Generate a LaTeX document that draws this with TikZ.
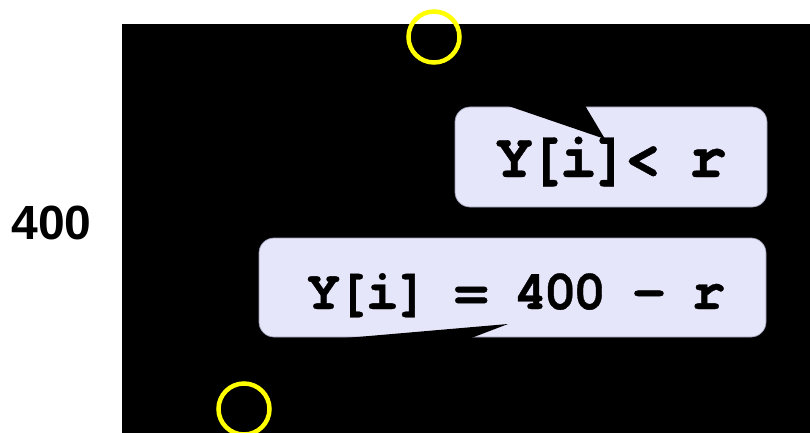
\documentclass[tikz,border=0pt]{standalone}
\usepackage{fontspec}
\newfontfamily\monobA{texgyrecursor-bold.otf}[FakeBold=0.6,LetterSpace=-9,WordSpace={0.85,0,0}]
\newfontfamily\monobB{texgyrecursor-bold.otf}[FakeBold=0.6,LetterSpace=-7.5,WordSpace={0.88,0,0}]
\newfontfamily\sansb{Liberation Sans}
\definecolor{calloutfill}{HTML}{E6E6FA}
\definecolor{calloutedge}{HTML}{9A9AB0}
\definecolor{ring}{HTML}{FFFF00}
\begin{document}
\begin{tikzpicture}[x=1pt,y=-1pt,
  callout/.style={rectangle, rounded corners=15pt, fill=calloutfill, draw=calloutedge, line width=0.7pt, inner sep=0pt},
  codetext/.style={anchor=base, inner sep=0pt},
  ringmark/.style={circle, draw=ring, line width=4.5pt, minimum size=51pt, inner sep=0pt}]
\useasboundingbox (0,0) rectangle (810,433);
\fill[white] (0,0) rectangle (810,433);
\fill[black] (122,24) rectangle (810,433);
\node[anchor=base, inner sep=0pt, font=\sansb\bfseries\fontsize{48}{50}\selectfont] (lbl) at (51.5,239) {400};
% callout 1
\node[callout, minimum width=312pt, minimum height=100pt] (b1) at (611,157) {};
\fill[black] (507,105.5) -- (605,139) -- (585,105.5) -- cycle;
\node[codetext, font=\monobA\fontsize{63}{65}\selectfont] (t1) at (611,177) {Y[i]< r};
% callout 2
\node[callout, minimum width=507pt, minimum height=99pt] (b2) at (512.5,287.5) {};
\fill[black] (340,338.5) -- (508,324) -- (470,338.5) -- cycle;
\node[codetext, font=\monobB\fontsize{56}{58}\selectfont] (t2) at (516,309) {Y[i] = 400 - r};
% rings
\node[ringmark] (c1) at (434,37) {};
\node[ringmark] (c2) at (244,409) {};
\end{tikzpicture}
\end{document}
